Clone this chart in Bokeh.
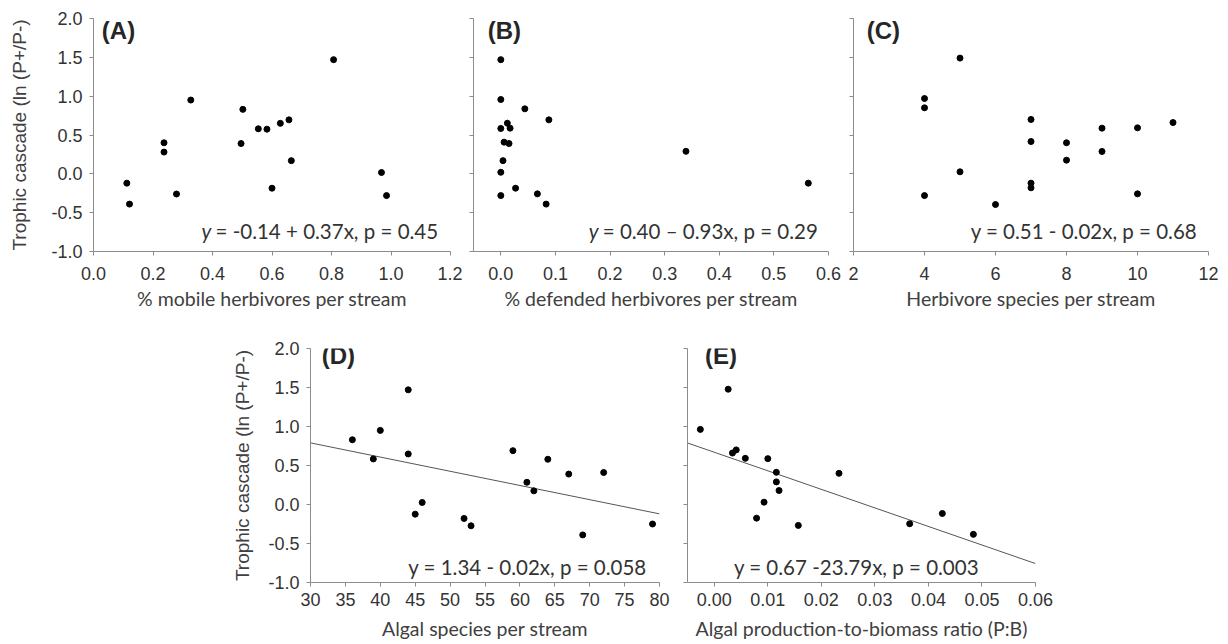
import numpy as np
from bokeh.plotting import figure
from bokeh.layouts import column, row
from bokeh.models import Range1d, FixedTicker, Label, Spacer, PrintfTickFormatter
from bokeh.embed import file_html
from bokeh.resources import INLINE

# ---------------- data ----------------
Y_LABEL = "Trophic cascade (ln (P+/P-)"
y_ticks = [-1.0, -0.5, 0.0, 0.5, 1.0, 1.5, 2.0]

# (A) % mobile herbivores per stream
mobile_x = [0.112, 0.121, 0.237, 0.237, 0.279, 0.327, 0.496, 0.502, 0.554, 0.583,
            0.628, 0.657, 0.665, 0.600, 0.807, 0.968, 0.985]
mobile_y = [-0.12, -0.39, 0.40, 0.28, -0.26, 0.95, 0.39, 0.83, 0.58, 0.575,
            0.65, 0.695, 0.17, -0.185, 1.47, 0.017, -0.28]
mobile_ticks = [0.0, 0.2, 0.4, 0.6, 0.8, 1.0, 1.2]

# (B) % defended herbivores per stream
defended_x = [0.0, 0.0, 0.044, 0.088, 0.012, 0.0, 0.017, 0.006, 0.015, 0.004,
              0.0, 0.027, 0.0, 0.067, 0.083, 0.339, 0.563]
defended_y = [1.47, 0.957, 0.837, 0.695, 0.652, 0.584, 0.588, 0.408, 0.39, 0.17,
              0.02, -0.185, -0.28, -0.258, -0.39, 0.29, -0.12]
defended_ticks = [0.0, 0.1, 0.2, 0.3, 0.4, 0.5, 0.6]

# (C) Herbivore species per stream
herb_x = [5, 4, 4, 4, 5, 6, 7, 7, 7, 7, 8, 8, 9, 9, 10, 10, 11]
herb_y = [1.49, 0.97, 0.85, -0.28, 0.026, -0.395, 0.70, 0.416, -0.12, -0.18,
          0.40, 0.176, 0.588, 0.288, 0.592, -0.258, 0.66]
herb_ticks = [2, 4, 6, 8, 10, 12]

# (D) Algal species per stream
algal_x = [36, 39, 40, 44, 44, 45, 46, 52, 53, 59, 61, 62, 64, 67, 69, 72, 79]
algal_y = [0.83, 0.584, 0.95, 1.47, 0.648, -0.124, 0.026, -0.179, -0.273, 0.69,
           0.285, 0.175, 0.58, 0.39, -0.39, 0.41, -0.25]
algal_ticks = [30, 35, 40, 45, 50, 55, 60, 65, 70, 75, 80]
algal_fit = (1.336, -0.0182)   # intercept, slope

# (E) Algal production-to-biomass ratio (P:B)
pb_x = [-0.0026, 0.0026, 0.0034, 0.0041, 0.0058, 0.0100, 0.0116, 0.0116, 0.0121,
        0.0093, 0.0079, 0.0157, 0.0233, 0.0365, 0.0426, 0.0484]
pb_y = [0.963, 1.478, 0.66, 0.70, 0.592, 0.588, 0.413, 0.29, 0.179, 0.03,
        -0.175, -0.268, 0.40, -0.247, -0.115, -0.383]
pb_ticks = [0.00, 0.01, 0.02, 0.03, 0.04, 0.05, 0.06]
pb_fit = (0.67, -23.79)

# ---------------- style ----------------
AXIS_COL = "#8c8c8c"
TICK_TXT = "#333333"
LBL_TXT = "#404040"
TICK_FONT = "Liberation Sans"
LBL_FONT = "Lato"
TICK_SIZE = "18px"
EQ_SIZE = "20.5px"


def make_fig(width, height, xr, xticks, xfmt, xlabel, left, right, top, bottom,
             show_ylabels, ylabel_standoff=18, xtick_standoff=8, xlabel_standoff=6):
    p = figure(width=width, height=height, x_range=Range1d(*xr), y_range=Range1d(-1.0, 2.0),
               output_backend="svg", toolbar_location=None,
               min_border_left=left, min_border_right=right,
               min_border_top=top, min_border_bottom=bottom)
    p.grid.visible = False
    p.outline_line_color = None
    p.background_fill_color = "white"
    p.border_fill_color = "white"
    for ax in (p.xaxis[0], p.yaxis[0]):
        ax.axis_line_color = AXIS_COL
        ax.major_tick_line_color = AXIS_COL
        ax.minor_tick_line_color = None
        ax.major_tick_in = 0
        ax.major_tick_out = 4
        ax.major_label_text_color = TICK_TXT
        ax.major_label_text_font = TICK_FONT
        ax.major_label_text_font_size = TICK_SIZE
    p.xaxis[0].ticker = FixedTicker(ticks=xticks)
    p.xaxis[0].formatter = PrintfTickFormatter(format=xfmt)
    p.xaxis[0].major_label_standoff = xtick_standoff
    p.xaxis[0].axis_label = xlabel
    p.xaxis[0].axis_label_text_font = LBL_FONT
    p.xaxis[0].axis_label_text_font_style = "normal"
    p.xaxis[0].axis_label_text_font_size = "19.5px"
    p.xaxis[0].axis_label_text_color = LBL_TXT
    p.xaxis[0].axis_label_standoff = xlabel_standoff
    p.yaxis[0].ticker = FixedTicker(ticks=y_ticks)
    p.yaxis[0].formatter = PrintfTickFormatter(format="%.1f")
    if show_ylabels:
        p.yaxis[0].major_label_standoff = 7
        p.yaxis[0].axis_label = Y_LABEL
        p.yaxis[0].axis_label_text_font = TICK_FONT
        p.yaxis[0].axis_label_text_font_style = "normal"
        p.yaxis[0].axis_label_text_font_size = "19px"
        p.yaxis[0].axis_label_text_color = LBL_TXT
        p.yaxis[0].axis_label_standoff = ylabel_standoff
    else:
        # ticks only, no tick labels drawn
        p.yaxis[0].major_label_text_font_size = "1px"
        p.yaxis[0].major_label_text_color = None
        p.yaxis[0].major_label_standoff = 0
    return p


def panel_label(p, x, text, y_off):
    p.add_layout(Label(x=x, y=2.0, text=text, text_font=TICK_FONT, text_font_style="bold",
                       text_font_size="24px", text_color="#262626", text_baseline="top",
                       y_offset=y_off))


def equation(p, x, y, text, italic_y=False):
    if italic_y:
        p.add_layout(Label(x=x, y=y, text="y", text_font=LBL_FONT, text_font_style="italic",
                           text_font_size=EQ_SIZE, text_color=TICK_TXT, text_baseline="middle"))
        p.add_layout(Label(x=x, y=y, x_offset=14, text=text, text_font=LBL_FONT,
                           text_font_size=EQ_SIZE, text_color=TICK_TXT, text_baseline="middle"))
    else:
        p.add_layout(Label(x=x, y=y, text=text, text_font=LBL_FONT,
                           text_font_size=EQ_SIZE, text_color=TICK_TXT, text_baseline="middle"))


def dots(p, xs, ys):
    p.scatter(xs, ys, size=6, color="black", line_color="black")


# ---------------- top row ----------------
TOP_H = 326
pA = make_fig(462, TOP_H, (0.0, 1.2), mobile_ticks, "%.1f", "% mobile herbivores per stream",
              93, 12, 18, 75, True, ylabel_standoff=18, xtick_standoff=11, xlabel_standoff=4)
dots(pA, mobile_x, mobile_y)
panel_label(pA, 0.028, "(A)", 2)
equation(pA, 0.363, -0.74, "= -0.14 + 0.37x, p = 0.45", italic_y=True)

pB = make_fig(379, TOP_H, (-0.05, 0.6), defended_ticks, "%.1f", "% defended herbivores per stream",
              11, 13, 18, 75, False, xtick_standoff=11, xlabel_standoff=4)
dots(pB, defended_x, defended_y)
panel_label(pB, -0.024, "(B)", 2)
equation(pB, 0.161, -0.74, "= 0.40 \u2013 0.93x, p = 0.29", italic_y=True)

pC = make_fig(383, TOP_H, (2, 12), herb_ticks, "%d", "Herbivore species per stream",
              12, 16, 18, 75, False, xtick_standoff=11, xlabel_standoff=4)
dots(pC, herb_x, herb_y)
panel_label(pC, 2.37, "(C)", 2)
equation(pC, 5.30, -0.74, "y = 0.51 - 0.02x, p = 0.68")

# ---------------- bottom row ----------------
BOT_H = 318
pD = make_fig(444, BOT_H, (30, 80), algal_ticks, "%d", "Algal species per stream",
              80, 14, 22, 62, True, ylabel_standoff=12, xtick_standoff=6, xlabel_standoff=8)
xsD = np.array([pD.x_range.start, pD.x_range.end], dtype=float)
pD.line(xsD, algal_fit[0] + algal_fit[1] * xsD, line_color="#555555", line_width=1)
dots(pD, algal_x, algal_y)
panel_label(pD, 31.6, "(D)", 7)
equation(pD, 44.0, -0.80, "y = 1.34 - 0.02x, p = 0.058")

pE = make_fig(382, BOT_H, (-0.005, 0.06), pb_ticks, "%.2f",
              "Algal production-to-biomass ratio (P:B)", 14, 20, 22, 62, False,
              xtick_standoff=6, xlabel_standoff=8)
xsE = np.array([pE.x_range.start, pE.x_range.end], dtype=float)
pE.line(xsE, pb_fit[0] + pb_fit[1] * xsE, line_color="#555555", line_width=1)
dots(pE, pb_x, pb_y)
panel_label(pE, -0.00174, "(E)", 7)
equation(pE, 0.00367, -0.80, "y = 0.67 -23.79x, p = 0.003")

layout = column(row(pA, pB, pC), row(Spacer(width=229, height=BOT_H), pD, pE))

open("out.html", "w").write(file_html(layout, INLINE))
